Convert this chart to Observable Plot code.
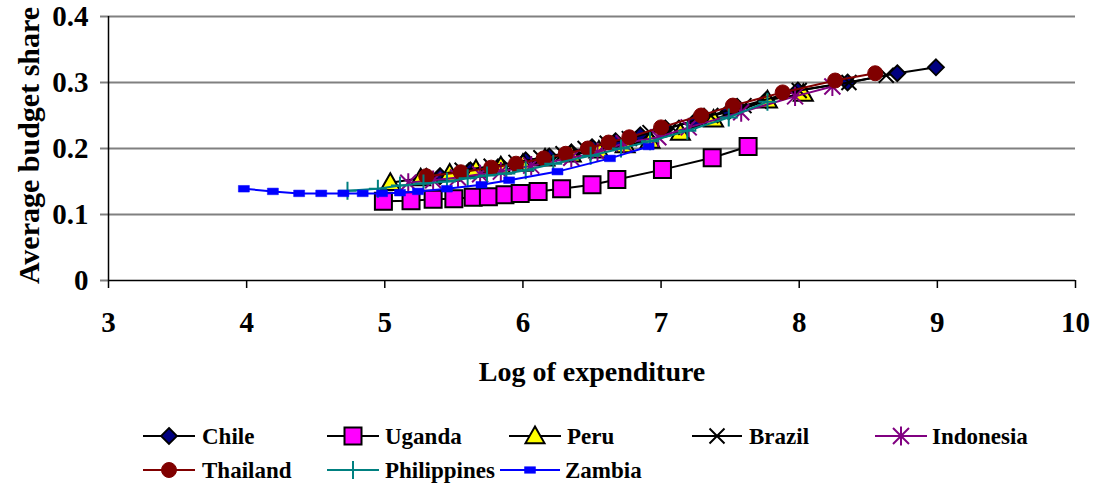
<!DOCTYPE html>
<html><head><meta charset="utf-8">
<script src="https://cdn.jsdelivr.net/npm/d3@7"></script>
<script src="https://cdn.jsdelivr.net/npm/@observablehq/plot@0.6"></script>
<style>
body{margin:0;background:#fff;font-family:"Liberation Serif","Times New Roman",serif;}
#chart svg{display:block}
</style></head><body><div id="chart"></div><script>
const xTicks = [3,4,5,6,7,8,9,10];
const yTicks = [0,0.1,0.2,0.3,0.4];

const chileX = [5.40,5.62,5.84,6.02,6.19,6.35,6.50,6.67,6.85,7.03,7.25,7.49,7.76,7.99,8.35,8.71,8.99];
const chileY = [0.158,0.167,0.174,0.182,0.188,0.194,0.202,0.211,0.220,0.230,0.242,0.256,0.273,0.288,0.300,0.314,0.323];
const ugandaX = [4.99,5.19,5.35,5.50,5.64,5.75,5.87,5.98,6.11,6.28,6.50,6.68,7.01,7.37,7.63];
const ugandaY = [0.120,0.121,0.123,0.124,0.126,0.127,0.130,0.132,0.135,0.139,0.145,0.153,0.168,0.186,0.203];
const peruX = [5.04,5.26,5.47,5.66,5.84,6.00,6.16,6.35,6.55,6.74,6.92,7.14,7.38,7.77,8.03];
const peruY = [0.148,0.155,0.162,0.168,0.173,0.177,0.185,0.191,0.197,0.205,0.212,0.224,0.244,0.273,0.283];
const brazilX = [5.35,5.56,5.77,5.95,6.13,6.29,6.45,6.61,6.77,6.92,7.08,7.36,7.60,8.00,8.36,8.63];
const brazilY = [0.159,0.167,0.173,0.179,0.186,0.192,0.200,0.208,0.215,0.224,0.232,0.250,0.265,0.288,0.300,0.311];
const indonesiaX = [5.17,5.35,5.53,5.69,5.84,6.06,6.35,6.54,6.73,6.98,7.20,7.58,7.97,8.24];
const indonesiaY = [0.148,0.152,0.156,0.161,0.165,0.174,0.186,0.194,0.208,0.217,0.232,0.255,0.279,0.294];
const thailandX = [5.30,5.55,5.77,5.95,6.15,6.31,6.47,6.62,6.77,7.00,7.29,7.52,7.88,8.26,8.55];
const thailandY = [0.158,0.164,0.171,0.177,0.185,0.192,0.200,0.209,0.217,0.232,0.250,0.265,0.285,0.303,0.314];
const philippinesX = [4.73,4.95,5.11,5.28,5.45,5.60,5.74,5.88,6.02,6.22,6.49,6.71,6.92,7.19,7.49,7.77];
const philippinesY = [0.136,0.139,0.144,0.147,0.150,0.155,0.159,0.162,0.167,0.177,0.189,0.200,0.211,0.227,0.247,0.271];
const zambiaX = [3.98,4.19,4.38,4.54,4.70,4.84,4.98,5.11,5.24,5.45,5.70,5.90,6.25,6.63,6.91];
const zambiaY = [0.139,0.135,0.132,0.132,0.132,0.132,0.132,0.133,0.135,0.139,0.145,0.152,0.165,0.185,0.203];

// Excel-like marker shapes (size = pi*r^2, so r = half-width)
const R = s => Math.sqrt(s / Math.PI);
const sym = {
  diamond: {draw(c,s){const r=R(s);c.moveTo(0,-r);c.lineTo(r,0);c.lineTo(0,r);c.lineTo(-r,0);c.closePath();}},
  square: {draw(c,s){const r=R(s);c.moveTo(-r,-r);c.lineTo(r,-r);c.lineTo(r,r);c.lineTo(-r,r);c.closePath();}},
  triangle: {draw(c,s){const r=R(s);c.moveTo(0,-r);c.lineTo(r,r*0.75);c.lineTo(-r,r*0.75);c.closePath();}},
  times: {draw(c,s){const r=R(s);c.moveTo(-r,-r);c.lineTo(r,r);c.moveTo(r,-r);c.lineTo(-r,r);}},
  asterisk: {draw(c,s){const r=R(s);c.moveTo(-r,-r);c.lineTo(r,r);c.moveTo(r,-r);c.lineTo(-r,r);c.moveTo(0,-r*1.2);c.lineTo(0,r*1.2);}},
  circle: {draw(c,s){const r=R(s);c.moveTo(r,0);c.arc(0,0,r,0,2*Math.PI);c.closePath();}},
  plus: {draw(c,s){const r=R(s);c.moveTo(-r,0);c.lineTo(r,0);c.moveTo(0,-r);c.lineTo(0,r);}},
  bar: {draw(c,s){const r=R(s);c.moveTo(-r,-r*0.6);c.lineTo(r,-r*0.6);c.lineTo(r,r*0.6);c.lineTo(-r,r*0.6);c.closePath();}}
};

const series = [
  {name:"Chile", xs:chileX, ys:chileY, line:"#000000", symbol:sym.diamond, r:8, fill:"#000080", stroke:"#000000", sw:1.8},
  {name:"Uganda", xs:ugandaX, ys:ugandaY, line:"#000000", symbol:sym.square, r:8.5, fill:"#FF00FF", stroke:"#000000", sw:2},
  {name:"Peru", xs:peruX, ys:peruY, line:"#000000", symbol:sym.triangle, r:9.5, fill:"#FFFF00", stroke:"#000000", sw:2},
  {name:"Brazil", xs:brazilX, ys:brazilY, line:"#000000", symbol:sym.times, r:7.5, fill:"none", stroke:"#000000", sw:2},
  {name:"Indonesia", xs:indonesiaX, ys:indonesiaY, line:"#800080", symbol:sym.asterisk, r:8, fill:"none", stroke:"#800080", sw:2},
  {name:"Thailand", xs:thailandX, ys:thailandY, line:"#800000", symbol:sym.circle, r:7.5, fill:"#800000", stroke:"#800000", sw:1},
  {name:"Philippines", xs:philippinesX, ys:philippinesY, line:"#008080", symbol:sym.plus, r:9, fill:"none", stroke:"#008080", sw:2},
  {name:"Zambia", xs:zambiaX, ys:zambiaY, line:"#0000FF", symbol:sym.bar, r:5.5, fill:"#0000FF", stroke:"#0000FF", sw:0.5}
];

const seriesMarks = series.flatMap(s => {
  const rows = s.xs.map((x,i) => ({x, y: s.ys[i]}));
  return [
    Plot.line(rows, {x:"x", y:"y", stroke:s.line, strokeWidth:2}),
    Plot.dot(rows, {x:"x", y:"y", symbol:s.symbol, r:s.r, fill:s.fill, stroke:s.stroke, strokeWidth:s.sw})
  ];
});

const FONT = "'Liberation Serif','Times New Roman',serif";
const chart = Plot.plot({
  width: 1097, height: 400,
  marginLeft: 108, marginRight: 22, marginTop: 16, marginBottom: 120,
  x: {domain:[3,10]},
  y: {domain:[0,0.4]},
  style: {fontFamily:FONT, background:"#fff", overflow:"visible"},
  marks: [
    Plot.ruleY(yTicks.filter(d => d > 0), {stroke:"#808080", strokeWidth:2}),
    Plot.axisY({ticks:yTicks, tickFormat:d => d === 0 ? "0" : d.toFixed(1), tickSize:8, tickPadding:12,
      fontSize:29, fontWeight:"bold", label:null, stroke:"#808080", strokeWidth:2, fill:"#000"}),
    Plot.axisX({ticks:xTicks, tickFormat:d => String(d), tickSize:8, tickPadding:23,
      fontSize:29, fontWeight:"bold", label:null, stroke:"#000", strokeWidth:1.5, fill:"#000"}),
    Plot.ruleY([0], {stroke:"#000", strokeWidth:1.5}),
    Plot.ruleX([3], {stroke:"#000", strokeWidth:1.5}),
    ...seriesMarks,
    Plot.text(["Average budget share"], {text:d => d, frameAnchor:"left", textAnchor:"middle", rotate:-90, dx:-79, dy:-3,
      fontSize:30, fontWeight:"bold", fill:"#000"}),
    Plot.text(["Log of expenditure"], {text:d => d, frameAnchor:"bottom", textAnchor:"middle", dy:100,
      fontSize:28, fontWeight:"bold", fill:"#000"})
  ]
});
document.getElementById("chart").appendChild(chart);

// Legend
const legendPos = [
  {x0:143, x1:195, tx:202, y:36}, {x0:327, x1:379, tx:385, y:36}, {x0:509, x1:561, tx:567, y:36},
  {x0:692, x1:742, tx:749, y:36}, {x0:875, x1:927, tx:932, y:36},
  {x0:143, x1:195, tx:202, y:70}, {x0:327, x1:379, tx:385, y:70}, {x0:500, x1:560, tx:565, y:70}
];
const lsvg = d3.select("#chart").append("svg").attr("width",1097).attr("height",89)
  .style("display","block").style("font-family",FONT);
series.forEach((s,i) => {
  const p = legendPos[i];
  const g = lsvg.append("g");
  g.append("line").attr("x1",p.x0).attr("x2",p.x1).attr("y1",p.y).attr("y2",p.y)
    .attr("stroke",s.line).attr("stroke-width",2);
  const path = d3.path();
  s.symbol.draw(path, Math.PI*s.r*s.r);
  g.append("path").attr("d",path.toString())
    .attr("transform",`translate(${(p.x0+p.x1)/2},${p.y})`)
    .attr("fill",s.fill).attr("stroke",s.stroke).attr("stroke-width",s.sw);
  g.append("text").attr("x",p.tx).attr("y",p.y).attr("dy","0.35em")
    .attr("font-size",23).attr("font-weight","bold").text(s.name);
});
</script></body></html>
